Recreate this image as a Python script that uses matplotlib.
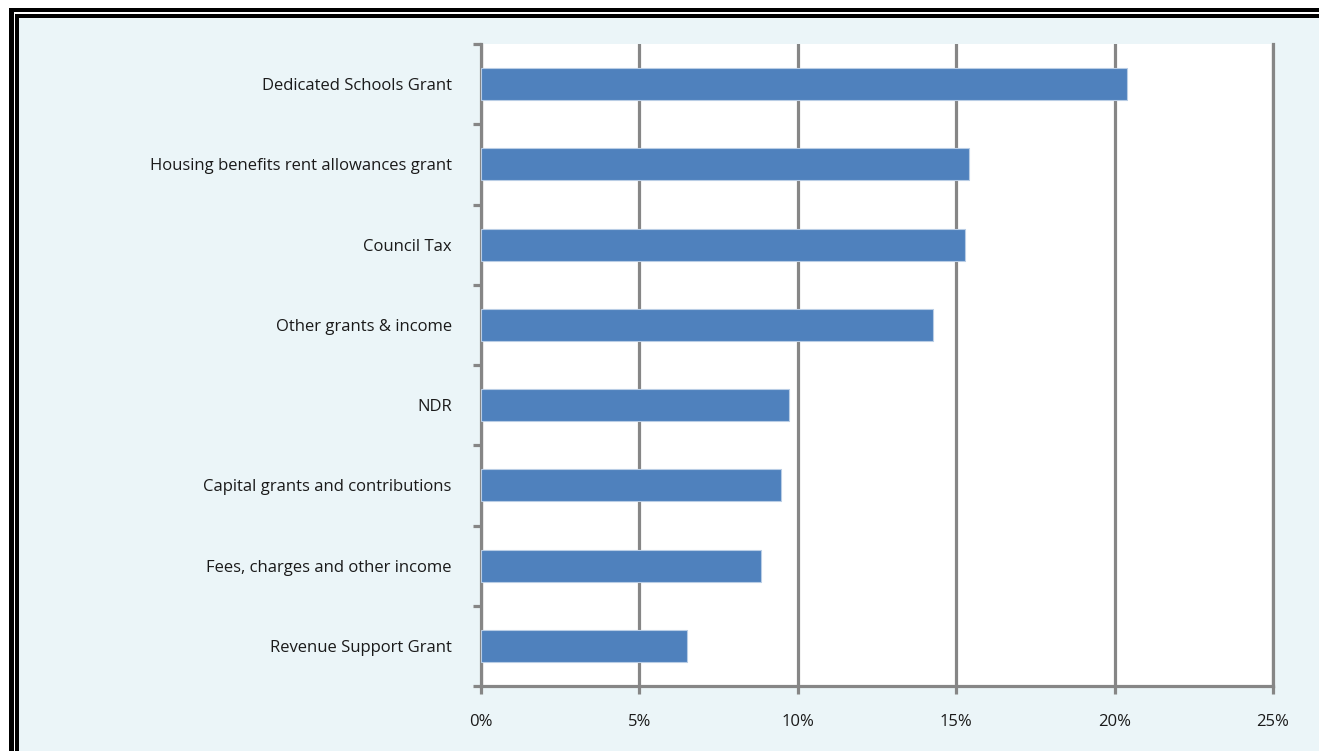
import matplotlib.pyplot as plt
from matplotlib.patches import Rectangle
from matplotlib.ticker import FixedLocator, FuncFormatter
import numpy as np

# Income sources, bottom to top as they appear on the chart
categories = ['Revenue Support Grant',
              'Fees, charges and other income',
              'Capital grants and contributions',
              'NDR',
              'Other grants & income',
              'Council Tax',
              'Housing benefits rent allowances grant',
              'Dedicated Schools Grant']
shares = [6.5, 8.84, 9.47, 9.73, 14.27, 15.27, 15.39, 20.38]
x_ticks = [0, 5, 10, 15, 20, 25]

W, H = 1319, 751
plt.rcParams['font.family'] = ['Open Sans', 'DejaVu Sans']

fig = plt.figure(figsize=(W / 100, H / 100), dpi=100, facecolor='white')

# double black frame around a pale blue panel (px from top-left)
def frame(x0, y0, color):
    fig.add_artist(Rectangle((x0 / W, 0), 1.2, 1 - y0 / H,
                             transform=fig.transFigure, facecolor=color,
                             edgecolor='none', zorder=-10))

frame(9, 8, 'black')
frame(14, 12, 'white')
frame(15, 14, 'black')
frame(19, 18, '#ebf5f8')

left, right, top, bottom = 481, 1273, 44, 686
ax = fig.add_axes([left / W, 1 - bottom / H, (right - left) / W, (bottom - top) / H])
ax.set_facecolor('white')

pos = np.arange(len(categories))
ax.barh(pos, shares, height=0.4, color='#4f81bd', edgecolor='#b9cde5',
        linewidth=0.8, zorder=3)

grey = '#868686'
ax.set_xlim(0, 25)
ax.set_ylim(-0.5, len(categories) - 0.5)
ax.xaxis.set_major_locator(FixedLocator(x_ticks))
ax.xaxis.set_major_formatter(FuncFormatter(lambda v, p: '%d%%' % v))
ax.grid(axis='x', color=grey, linewidth=2.3, zorder=1)
ax.set_axisbelow(True)

ax.set_yticks(pos)
ax.set_yticklabels(categories)
ax.set_yticks(np.arange(-0.5, len(categories)), minor=True)
ax.tick_params(axis='y', which='major', length=0, pad=21, labelsize=12,
               colors='#1a1a1a')
ax.tick_params(axis='y', which='minor', length=6, width=2.3, color=grey,
               direction='out')
ax.tick_params(axis='x', length=6, width=2.3, color=grey, pad=14,
               labelsize=12, labelcolor='#1a1a1a', direction='out')

ax.spines['top'].set_visible(False)
for side in ['left', 'bottom', 'right']:
    ax.spines[side].set_color(grey)
    ax.spines[side].set_linewidth(2.3)
    ax.spines[side].set_zorder(2)

fig.savefig('out.png', dpi=100, facecolor=fig.get_facecolor())
